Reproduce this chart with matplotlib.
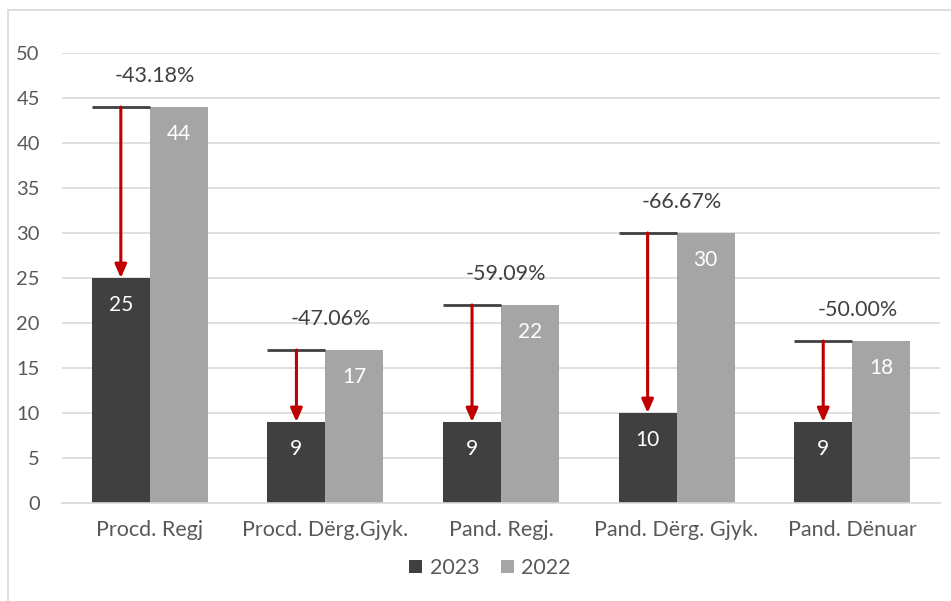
import matplotlib
matplotlib.use("Agg")
import matplotlib.pyplot as plt
import numpy as np
from matplotlib.lines import Line2D

categories = ["Procd. Regj", "Procd. Dërg.Gjyk.", "Pand. Regj.", "Pand. Dërg. Gjyk.", "Pand. Dënuar"]
values_2023 = [25, 9, 9, 10, 9]
values_2022 = [44, 17, 22, 30, 18]
pct_labels = ["-43.18%", "-47.06%", "-59.09%", "-66.67%", "-50.00%"]
yticks = [0, 5, 10, 15, 20, 25, 30, 35, 40, 45, 50]

plt.rcParams['font.family'] = ['Lato', 'DejaVu Sans']
W, H = 951, 601
fig = plt.figure(figsize=(W/100, H/100), dpi=100)
ax = fig.add_axes([62/W, 1-503/H, (940-62)/W, (503-53)/H])

x = np.arange(len(categories))
bw = 0.33
c23, c22 = '#404040', '#a5a5a5'
b1 = ax.bar(x - bw/2, values_2023, bw, color=c23, label='2023', zorder=2)
b2 = ax.bar(x + bw/2, values_2022, bw, color=c22, label='2022', zorder=2)

for xi, v in zip(x, values_2023):
    ax.text(xi - bw/2, v - 3, str(v), ha='center', va='center', color='white', fontsize=15, zorder=5)
for xi, v in zip(x, values_2022):
    ax.text(xi + bw/2, v - 3, str(v), ha='center', va='center', color='white', fontsize=15, zorder=5)

for xi, v23, v22, lab in zip(x, values_2023, values_2022, pct_labels):
    ax.plot([xi - bw, xi], [v22, v22], color='#404040', lw=2, zorder=4, solid_capstyle='butt')
    ax.annotate('', xy=(xi - bw/2, v23), xytext=(xi - bw/2, v22),
                arrowprops=dict(arrowstyle='-|>,head_length=0.8,head_width=0.35', color='#c00000', lw=2.2,
                                shrinkA=0, shrinkB=0), zorder=4)
    ax.text(xi + 0.03, v22 + 3.4, lab, ha='center', va='center', color='#404040', fontsize=15.5)

ax.set_xlim(-0.5, len(categories) - 0.5)
ax.set_ylim(0, 50)
ax.set_yticks(yticks)
ax.set_xticks(x)
ax.set_xticklabels(categories)
ax.tick_params(axis='both', length=0, labelcolor='#595959')
ax.tick_params(axis='y', labelsize=14.5, pad=16)
ax.tick_params(axis='x', labelsize=15.5, pad=12)
ax.yaxis.grid(True, color='#d9d9d9', lw=1.2, zorder=0)
ax.set_axisbelow(True)
for s in ['top', 'right', 'left']:
    ax.spines[s].set_visible(False)
ax.spines['bottom'].set_color('#d9d9d9')
ax.spines['bottom'].set_linewidth(1.2)

leg = fig.legend(handles=[b1, b2], labels=['2023', '2022'], loc='center', bbox_to_anchor=(490/W, 1-568/H),
                 ncol=2, frameon=False, fontsize=15.5, handlelength=0.6, handleheight=0.6,
                 columnspacing=1.0, handletextpad=0.35)
for t in leg.get_texts():
    t.set_color('#595959')

fig.add_artist(Line2D([8/W, 8/W], [0, 1-10/H], transform=fig.transFigure, color='#d9d9d9', lw=1.2))
fig.add_artist(Line2D([8/W, 1], [1-10/H, 1-10/H], transform=fig.transFigure, color='#d9d9d9', lw=1.2))

fig.savefig('out.png', dpi=100)
